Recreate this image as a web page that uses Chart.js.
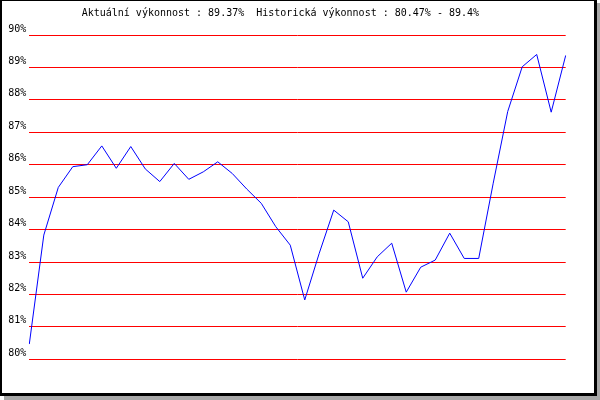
<!DOCTYPE html>
<html>
<head>
<meta charset="utf-8">
<script src="https://cdn.jsdelivr.net/npm/chart.js@4.4.1/dist/chart.umd.min.js"></script>
<style>
  html, body { margin: 0; padding: 0; background: #ffffff; overflow: hidden; width: 600px; height: 400px; }
  #frame { position: absolute; left: -1px; top: -2px; width: 598px; height: 398px; box-sizing: border-box;
           border: 3px solid #000; background: #fff; box-shadow: 5px 5px 0 #a8a8a8; }
  #c { position: absolute; left: -5px; top: 0px; }
</style>
</head>
<body>
<div id="frame"></div>
<canvas id="c" width="605" height="400"></canvas>
<script>
const titleText = 'Aktuální výkonnost : 89.37%  Historická výkonnost : 80.47% - 89.4%';
const categories = ['1','2','3','4','5','6','7','8','9','10','11','12','13','14','15','16','17','18','19','20',
                    '21','22','23','24','25','26','27','28','29','30','31','32','33','34','35','36','37','38'];
const performance = [80.47, 83.83, 85.30, 85.94, 86.00, 86.58, 85.89, 86.56, 85.87, 85.48,
                     86.04, 85.55, 85.78, 86.09, 85.73, 85.25, 84.81, 84.09, 83.52, 81.83,
                     83.27, 84.60, 84.24, 82.50, 83.16, 83.58, 82.07, 82.84, 83.06, 83.89,
                     83.11, 83.11, 85.43, 87.64, 89.02, 89.40, 87.62, 89.37];
const yTickValues = [80, 81, 82, 83, 84, 85, 86, 87, 88, 89, 90];
const yTickLabels = ['80%', '81%', '82%', '83%', '84%', '85%', '86%', '87%', '88%', '89%', '90%'];

const monoFont = { family: "'DejaVu Sans Mono', monospace", size: 10, weight: 'normal', lineHeight: 1.2 };

new Chart(document.getElementById('c'), {
  type: 'line',
  data: {
    labels: categories,
    datasets: [{
      data: performance,
      borderColor: '#0000ff',
      borderWidth: 1,
      pointRadius: 0,
      pointHoverRadius: 0,
      tension: 0,
      fill: false
    }]
  },
  options: {
    responsive: false,
    animation: false,
    devicePixelRatio: 1,
    layout: { padding: { left: 0, right: 34.3, top: 0, bottom: 40.7 } },
    plugins: {
      legend: { display: false },
      tooltip: { enabled: false },
      title: {
        display: true,
        text: titleText,
        color: '#000',
        font: monoFont,
        padding: { top: 7, bottom: 16 },
        fullSize: true
      }
    },
    scales: {
      x: { type: 'category', display: false, offset: false },
      y: {
        min: 80, max: 90,
        border: { display: false },
        grid: { color: '#ff0000', lineWidth: 1, drawTicks: false },
        afterBuildTicks: (scale) => { scale.ticks = yTickValues.map(v => ({ value: v })); },
        afterFit: (scale) => { scale.width = 34.3; },
        ticks: {
          color: '#000',
          font: monoFont,
          padding: 3,
          labelOffset: -6,
          callback: (v) => yTickLabels[yTickValues.indexOf(v)]
        }
      }
    }
  }
});
</script>
</body>
</html>
